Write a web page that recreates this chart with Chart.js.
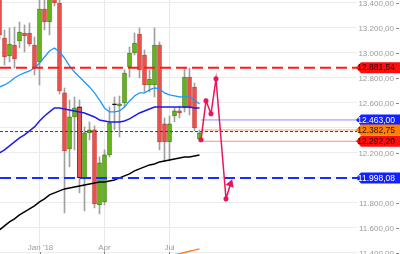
<!DOCTYPE html>
<html>
<head>
<meta charset="utf-8">
<script src="https://cdn.jsdelivr.net/npm/chart.js@4"></script>
<style>
  html, body { margin: 0; padding: 0; background: #fff; }
  #wrap { width: 400px; height: 254px; }
</style>
</head>
<body>
<div id="wrap"><canvas id="chart" width="400" height="254"></canvas></div>
<script>
// weekly candles, index 0 = first visible week
const opens  = [13471, 13119, 12975, 13063, 13095, 13159, 13159, 13063, 12927, 13351, 13247, 13487, 13399, 12679, 12231, 12487, 12567, 12001, 12359, 12383, 11783, 11807, 12183, 12583, 12575, 12599, 12887, 12999, 13151, 12983, 12743, 12743, 13063, 12431, 12287, 12495, 12535, 12559, 12807, 12727, 12311];
const closes = [13143, 12967, 13071, 12951, 13167, 13135, 13071, 12887, 13351, 13247, 13455, 13399, 12695, 12215, 12487, 12559, 12001, 12359, 12383, 11791, 12119, 12183, 12439, 12583, 12591, 12839, 12999, 13079, 12863, 12743, 12791, 13063, 12287, 12287, 12431, 12535, 12519, 12807, 12559, 12399, 12359];
const highs  = [13519, 13183, 13199, 13207, 13247, 13223, 13239, 13127, 13439, 13439, 13503, 13543, 13423, 12719, 12623, 12647, 12623, 12407, 12447, 12415, 12167, 12223, 12567, 12647, 12655, 12863, 13047, 13159, 13199, 13023, 12863, 13199, 13087, 12479, 12495, 12559, 12575, 12879, 12879, 12759, 12383];
const lows   = [13103, 12903, 12927, 12879, 13039, 13007, 13055, 12823, 12743, 13183, 13143, 13375, 12671, 11719, 12087, 12223, 11879, 11735, 12303, 11759, 11711, 11783, 12167, 12383, 12327, 12567, 12807, 12983, 12799, 12687, 12687, 12647, 12223, 12135, 12135, 12447, 12479, 12527, 12503, 12375, 12295];
const selectedCandle = 16;

// moving averages
const maFast = [12727, 12743, 12767, 12799, 12823, 12839, 12855, 12879, 12919, 12967, 13015, 13039, 13007, 12959, 12895, 12847, 12807, 12767, 12727, 12679, 12623, 12559, 12527, 12527, 12535, 12567, 12615, 12655, 12679, 12679, 12703, 12719, 12711, 12679, 12663, 12655, 12647, 12647, 12647, 12623, 12591];
const maMid  = [12199, 12223, 12255, 12287, 12319, 12343, 12375, 12407, 12455, 12495, 12527, 12559, 12559, 12551, 12543, 12535, 12527, 12519, 12503, 12487, 12463, 12455, 12447, 12447, 12447, 12455, 12471, 12495, 12519, 12535, 12551, 12567, 12567, 12567, 12567, 12567, 12567, 12567, 12567, 12559, 12559];
const maSlow = [11583, 11615, 11647, 11671, 11703, 11727, 11751, 11775, 11807, 11831, 11863, 11879, 11895, 11911, 11919, 11927, 11935, 11943, 11951, 11959, 11967, 11967, 11975, 11983, 11999, 12015, 12031, 12055, 12071, 12087, 12103, 12111, 12127, 12135, 12143, 12151, 12159, 12167, 12167, 12175, 12183];
const maLowX = [35, 36, 37, 38, 39, 40];
const maLow  = [11384, 11393, 11402, 11412, 11421, 11431];

// projected path
const pathX = [40.3, 41.3, 42.3, 43.3, 45.3, 46.2];
const pathY = [12304, 12616, 12512, 12792, 11832, 11951];

// levels
const resistance = 12881.54;
const support = 11998.08;
const dottedLevel = 12370;
const boxStart = 40.3;
const boxLevels = [12463.00, 12382.75, 12292.20];

// right side price tags
const tagValues = [12881.54, 12463.00, 12382.75, 12292.20, 11998.08];
const tagColors = ['#ff0d0d', '#1222ff', '#ff7f00', '#ff0d0d', '#1222ff'];
const tagText   = ['#2a0000', '#ffffff', '#2a1200', '#2a0000', '#ffffff'];

// axes
const yTicks = [11400, 11600, 11800, 12000, 12200, 12400, 12600, 12800, 13000, 13200, 13400];
const xTickPos = [8, 21, 34];
const xTickLabels = ["Jan '18", 'Apr', 'Jul'];

const X_MIN = 0.1, X_MAX = 71.5;

function fmt(v) {
    const parts = v.toFixed(2).split('.');
    return parts[0].replace(/\B(?=(\d{3})+(?!\d))/g, '.') + ',' + parts[1];
}

const FONT = '"Liberation Sans", Arial, sans-serif';
Chart.defaults.font.family = FONT;

const bodyColors = opens.map((o, i) => closes[i] > o ? '#63b31a' : (closes[i] < o ? '#e8524a' : '#000'));
const bodyBorders = opens.map((o, i) => {
    if (i === selectedCandle) return '#000';
    return closes[i] > o ? '#3f7d0a' : (closes[i] < o ? '#c23a33' : '#000');
});

function hline(v, from, to) {
    return [{x: from, y: v}, {x: to, y: v}];
}

const extras = {
    id: 'extras',
    afterDraw(chart) {
        const {ctx, chartArea} = chart;
        const ys = chart.scales.y, xs = chart.scales.x;
        const W = chart.width;
        ctx.save();
        // price labels with a small dash after them
        ctx.font = '8px ' + FONT;
        ctx.fillStyle = '#9a9a9a';
        ctx.strokeStyle = '#888';
        ctx.lineWidth = 1;
        ctx.textAlign = 'right';
        ctx.textBaseline = 'middle';
        yTicks.forEach(v => {
            const py = Math.round(ys.getPixelForValue(v)) + 0.5;
            ctx.fillText(fmt(v), W - 6, py);
            ctx.beginPath(); ctx.moveTo(W - 4, py); ctx.lineTo(W - 1, py); ctx.stroke();
        });
        // time labels inside the plot
        ctx.textAlign = 'center';
        ctx.textBaseline = 'alphabetic';
        xTickPos.forEach((p, k) => {
            const px = Math.round(xs.getPixelForValue(p)) + 0.5;
            ctx.fillText(xTickLabels[k], px, chartArea.bottom - 4);
            ctx.beginPath(); ctx.moveTo(px, chartArea.bottom - 2); ctx.lineTo(px, chartArea.bottom); ctx.stroke();
        });
        // price tags
        ctx.font = '8.5px ' + FONT;
        ctx.textAlign = 'right';
        ctx.textBaseline = 'middle';
        tagValues.forEach((v, k) => {
            const py = ys.getPixelForValue(v);
            const x0 = chartArea.right - 1;
            ctx.fillStyle = tagColors[k];
            ctx.beginPath();
            ctx.moveTo(x0, py);
            ctx.lineTo(x0 + 5, py - 5.5);
            ctx.lineTo(W, py - 5.5);
            ctx.lineTo(W, py + 5.5);
            ctx.lineTo(x0 + 5, py + 5.5);
            ctx.closePath();
            ctx.fill();
            ctx.fillStyle = tagText[k];
            ctx.fillText(fmt(v), W - 5, py + 0.5);
        });
        ctx.restore();
    }
};

new Chart('chart', {
    type: 'bar',
    data: {
        datasets: [
            {
                type: 'line', label: 'resistance', order: 1,
                data: hline(resistance, X_MIN, X_MAX),
                borderColor: '#ff1a1a', borderWidth: 2, borderDash: [11, 5], pointRadius: 0
            },
            {
                type: 'line', label: 'support', order: 1,
                data: hline(support, X_MIN, X_MAX),
                borderColor: '#1a2cff', borderWidth: 2, borderDash: [11, 5], pointRadius: 0
            },
            {
                type: 'line', label: 'dotted', order: 1,
                data: hline(dottedLevel, X_MIN, X_MAX),
                borderColor: '#1a2cff', borderWidth: 1, borderDash: [3, 2], pointRadius: 0
            },
            {
                type: 'line', label: 'box1', order: 2,
                data: hline(boxLevels[0], boxStart, X_MAX),
                borderColor: '#8c8cff', borderWidth: 1, pointRadius: 0
            },
            {
                type: 'line', label: 'box2', order: 2,
                data: hline(boxLevels[1], boxStart, X_MAX),
                borderColor: '#ffa060', borderWidth: 1, pointRadius: 0
            },
            {
                type: 'line', label: 'box3', order: 2,
                data: hline(boxLevels[2], boxStart, X_MAX),
                borderColor: '#ff8a8a', borderWidth: 1, pointRadius: 0
            },
            {
                type: 'line', label: 'path', order: 0,
                data: pathX.map((x, i) => ({x: x, y: pathY[i]})),
                borderColor: '#e8175d', backgroundColor: '#e8175d', borderWidth: 1.5,
                pointRadius: pathX.map((x, i) => i === pathX.length - 1 ? 3.5 : 1.8),
                pointStyle: pathX.map((x, i) => i === pathX.length - 1 ? 'triangle' : 'circle'),
                pointRotation: 20
            },
            {
                type: 'line', label: 'fast', order: 3,
                data: maFast.map((v, i) => ({x: i, y: v})),
                borderColor: '#1e96ff', borderWidth: 1.3, pointRadius: 0
            },
            {
                type: 'line', label: 'mid', order: 3,
                data: maMid.map((v, i) => ({x: i, y: v})),
                borderColor: '#1c1cf0', borderWidth: 1.5, pointRadius: 0
            },
            {
                type: 'line', label: 'slow', order: 3,
                data: maSlow.map((v, i) => ({x: i, y: v})),
                borderColor: '#000', borderWidth: 1.5, pointRadius: 0
            },
            {
                type: 'line', label: 'low', order: 3,
                data: maLowX.map((x, i) => ({x: x, y: maLow[i]})),
                borderColor: '#ff7f27', borderWidth: 1.5, pointRadius: 0
            },
            {
                label: 'bodies', order: 4,
                data: opens.map((o, i) => ({x: i, y: [o, closes[i]]})),
                backgroundColor: bodyColors, borderColor: bodyBorders,
                borderWidth: 0.8, borderSkipped: false, barThickness: 4, minBarLength: 1, grouped: false
            },
            {
                label: 'wicks', order: 5,
                data: lows.map((l, i) => ({x: i, y: [l, highs[i]]})),
                backgroundColor: '#a0a0a0', barThickness: 1, grouped: false
            }
        ]
    },
    options: {
        responsive: false,
        animation: false,
        layout: {padding: 0, autoPadding: false},
        plugins: {legend: {display: false}, tooltip: {enabled: false}},
        scales: {
            x: {
                type: 'linear', min: X_MIN, max: X_MAX, offset: false,
                afterBuildTicks: s => { s.ticks = xTickPos.map(v => ({value: v})); },
                ticks: {display: false},
                grid: {color: '#e9e9e9', drawTicks: false, offset: false},
                border: {display: false}
            },
            y: {
                type: 'linear', position: 'right', min: 11390, max: 13423,
                afterBuildTicks: s => { s.ticks = yTicks.map(v => ({value: v})); },
                afterFit: s => { s.width = 43; },
                ticks: {display: false},
                grid: {color: '#ececec', drawTicks: false},
                border: {display: false}
            }
        }
    },
    plugins: [extras]
});
</script>
</body>
</html>
